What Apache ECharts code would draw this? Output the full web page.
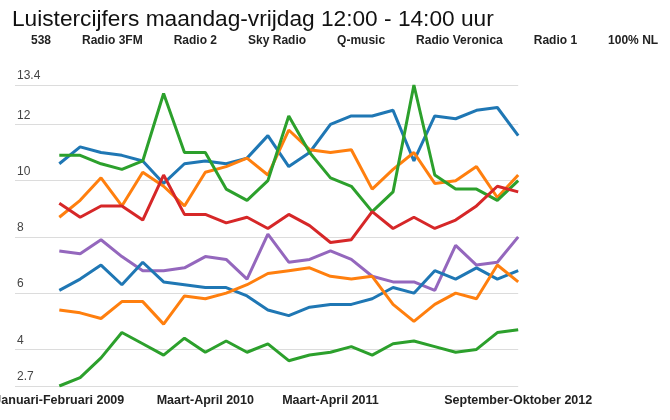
<!DOCTYPE html>
<html>
<head>
<meta charset="utf-8">
<script src="https://cdn.jsdelivr.net/npm/echarts@6/dist/echarts.min.js"></script>
<style>
    html, body { margin: 0; padding: 0; background: #fff; }
    #chart { width: 670px; height: 420px; }
</style>
</head>
<body>
<div id="chart"></div>
<script>
    // tweemaandelijkse perioden, jan-feb 2009 t/m sep-okt 2012
    var periods = [
        'Januari-Februari 2009', 'Maart-April 2009', 'Mei-Juni 2009', 'Juli-Augustus 2009', 'September-Oktober 2009', 'November-December 2009',
        'Januari-Februari 2010', 'Maart-April 2010', 'Mei-Juni 2010', 'Juli-Augustus 2010', 'September-Oktober 2010', 'November-December 2010',
        'Januari-Februari 2011', 'Maart-April 2011', 'Mei-Juni 2011', 'Juli-Augustus 2011', 'September-Oktober 2011', 'November-December 2011',
        'Januari-Februari 2012', 'Maart-April 2012', 'Mei-Juni 2012', 'Juli-Augustus 2012', 'September-Oktober 2012'
    ];
    var shownPeriods = ['Januari-Februari 2009', 'Maart-April 2010', 'Maart-April 2011', 'September-Oktober 2012'];

    var stations = ['538', 'Radio 3FM', 'Radio 2', 'Sky Radio', 'Q-music', 'Radio Veronica', 'Radio 1', '100% NL'];

    var radio538      = [10.6, 11.2, 11.0, 10.9, 10.7, 9.9, 10.6, 10.7, 10.6, 10.8, 11.6, 10.5, 11.0, 12.0, 12.3, 12.3, 12.5, 10.7, 12.3, 12.2, 12.5, 12.6, 11.6];
    var radio3fm      = [8.7, 9.3, 10.1, 9.1, 10.3, 9.8, 9.1, 10.3, 10.5, 10.8, 10.2, 11.8, 11.1, 11.0, 11.1, 9.7, 10.4, 11.0, 9.9, 10.0, 10.5, 9.4, 10.2];
    var radio2        = [10.9, 10.9, 10.6, 10.4, 10.7, 13.1, 11.0, 11.0, 9.7, 9.3, 10.0, 12.3, 11.0, 10.1, 9.8, 8.9, 9.6, 13.4, 10.2, 9.7, 9.7, 9.3, 10.0];
    var skyRadio      = [9.2, 8.7, 9.1, 9.1, 8.6, 10.2, 8.8, 8.8, 8.5, 8.7, 8.3, 8.8, 8.4, 7.8, 7.9, 8.9, 8.3, 8.7, 8.3, 8.6, 9.1, 9.8, 9.6];
    var qmusic        = [7.5, 7.4, 7.9, 7.3, 6.8, 6.8, 6.9, 7.3, 7.2, 6.5, 8.1, 7.1, 7.2, 7.5, 7.2, 6.6, 6.4, 6.4, 6.1, 7.7, 7.0, 7.1, 8.0];
    var radioVeronica = [6.1, 6.5, 7.0, 6.3, 7.1, 6.4, 6.3, 6.2, 6.2, 5.9, 5.4, 5.2, 5.5, 5.6, 5.6, 5.8, 6.2, 6.0, 6.8, 6.5, 6.9, 6.5, 6.8];
    var radio1        = [5.4, 5.3, 5.1, 5.7, 5.7, 4.9, 5.9, 5.8, 6.0, 6.3, 6.7, 6.8, 6.9, 6.6, 6.5, 6.6, 5.6, 5.0, 5.6, 6.0, 5.8, 7.0, 6.4];
    var honderdNL     = [2.7, 3.0, 3.7, 4.6, 4.2, 3.8, 4.4, 3.9, 4.3, 3.9, 4.2, 3.6, 3.8, 3.9, 4.1, 3.8, 4.2, 4.3, 4.1, 3.9, 4.0, 4.6, 4.7];

    var yMin = 2.7, yMax = 13.4;

    var values = [radio538, radio3fm, radio2, skyRadio, qmusic, radioVeronica, radio1, honderdNL];
    var colors = ['#1f77b4', '#ff7f0e', '#2ca02c', '#d62728', '#9467bd', '#1f77b4', '#ff7f0e', '#2ca02c'];
    var font = "'Liberation Sans', Arial, sans-serif";

    var chart = echarts.init(document.getElementById('chart'));
    var option = {
        animation: false,
        backgroundColor: '#fff',
        title: {
            text: 'Luistercijfers maandag-vrijdag 12:00 - 14:00 uur',
            left: 12,
            top: 8,
            padding: 0,
            textStyle: { fontFamily: font, fontSize: 22.7, fontWeight: 'normal', color: '#111' }
        },
        legend: {
            data: stations,
            left: 26,
            top: 35,
            padding: 0,
            icon: 'none',
            itemWidth: 0,
            itemHeight: 12,
            itemGap: 26,
            selectedMode: false,
            textStyle: { fontFamily: font, fontSize: 12, fontWeight: 'bold', color: '#222' }
        },
        grid: [
            // lijnen; eerste label mag links buiten beeld vallen
            { left: 59.3, right: 151.8, top: 85, bottom: 34, outerBoundsMode: 'none' },
            // rasterlijnen lopen verder naar links dan de data
            { left: 15, right: 151.8, top: 85, bottom: 34, outerBoundsMode: 'none' }
        ],
        xAxis: [{
            gridIndex: 0,
            type: 'category',
            data: periods,
            boundaryGap: false,
            axisLine: { show: false },
            axisTick: { show: false },
            splitLine: { show: false },
            axisLabel: {
                interval: function (idx, name) { return shownPeriods.indexOf(name) >= 0; },
                margin: 8,
                fontFamily: font,
                fontSize: 12.5,
                fontWeight: 'bold',
                color: '#222'
            }
        }, {
            gridIndex: 1,
            type: 'value',
            min: 0,
            max: 1,
            show: false
        }],
        yAxis: [{
            gridIndex: 0,
            type: 'value',
            min: yMin,
            max: yMax,
            show: false
        }, {
            gridIndex: 1,
            type: 'value',
            min: yMin,
            max: yMax,
            splitNumber: 5,
            axisLine: { show: false },
            axisTick: { show: false },
            splitLine: { lineStyle: { color: '#dcdcdc', width: 1 } },
            axisLabel: {
                inside: true,
                margin: 2,
                verticalAlign: 'bottom',
                padding: [0, 0, 3, 0],
                fontFamily: font,
                fontSize: 12,
                color: '#444'
            }
        }],
        series: stations.map(function (name, i) {
            return {
                name: name,
                type: 'line',
                xAxisIndex: 0,
                yAxisIndex: 0,
                data: values[i],
                showSymbol: false,
                symbol: 'none',
                color: colors[i],
                lineStyle: { width: 3, color: colors[i] }
            };
        })
    };
    chart.setOption(option);
</script>
</body>
</html>
